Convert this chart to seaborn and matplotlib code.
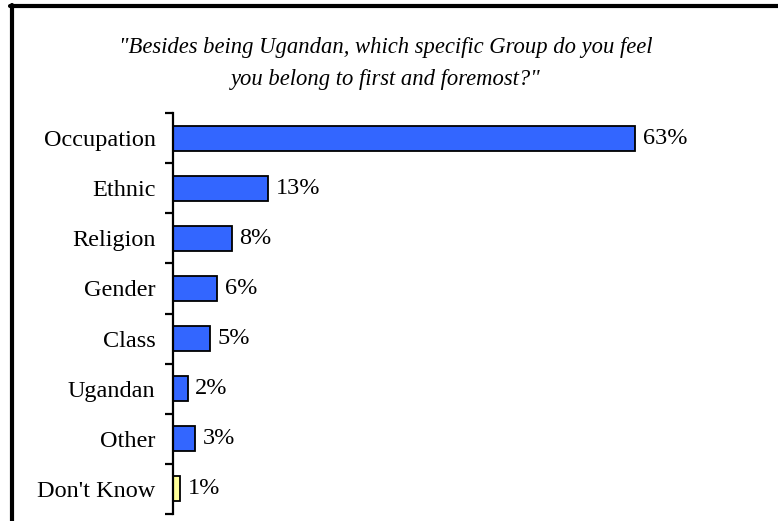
import matplotlib
matplotlib.use("Agg")
import matplotlib.pyplot as plt
import seaborn as sns
from matplotlib.lines import Line2D

categories = ["Occupation", "Ethnic", "Religion", "Gender", "Class", "Ugandan", "Other", "Don't Know"]
values = [63, 13, 8, 6, 5, 2, 3, 1]
bar_colors = ["#3366FF"] * 7 + ["#FFFF99"]
title_lines = ["\"Besides being Ugandan, which specific Group do you feel",
               "you belong to first and foremost?\""]

sns.set_theme(style="white")
plt.rcParams["font.family"] = ["Liberation Serif", "DejaVu Serif"]

fig = plt.figure(figsize=(7.78, 5.21), dpi=100)
ax = fig.add_axes([173 / 778, 7 / 521, 567 / 778, 401 / 521])

sns.barplot(x=values, y=categories, hue=categories, palette=bar_colors,
            legend=False, width=0.5, edgecolor="black", linewidth=1.3,
            orient="h", ax=ax, saturation=1)

ax.set_xlim(0, 567 / 7.333)
ax.set_ylim(len(categories) - 0.5, -0.5)
ax.set_xlabel("")
ax.set_ylabel("")
ax.set_xticks([])

for s in ["top", "right", "bottom"]:
    ax.spines[s].set_visible(False)
ax.spines["left"].set_color("black")
ax.spines["left"].set_linewidth(1.6)

label_size = 17.5
ax.set_yticks(range(len(categories)))
ax.set_yticklabels(categories, fontsize=label_size, color="black")
ax.tick_params(axis="y", which="major", length=0, pad=12.5)
ax.set_yticks([i - 0.5 for i in range(len(categories) + 1)], minor=True)
ax.tick_params(axis="y", which="minor", length=6, width=1.6, color="black", left=True)

for i, v in enumerate(values):
    ax.annotate(f"{v}%", xy=(v, i), xytext=(5.5, 0), textcoords="offset points",
                va="center", ha="left", fontsize=label_size, color="black")

fig.text(386 / 778, 1 - 48 / 521, title_lines[0], ha="center", va="center",
         fontsize=16.3, style="italic", color="black")
fig.text(386 / 778, 1 - 80 / 521, title_lines[1], ha="center", va="center",
         fontsize=16.3, style="italic", color="black")

# outer frame (top and left edges)
fig.add_artist(Line2D([10 / 778, 1], [1 - 6 / 521, 1 - 6 / 521],
                      transform=fig.transFigure, color="black", linewidth=3))
fig.add_artist(Line2D([12 / 778, 12 / 778], [0, 1 - 5 / 521],
                      transform=fig.transFigure, color="black", linewidth=3))

fig.savefig("out.png", dpi=100)
